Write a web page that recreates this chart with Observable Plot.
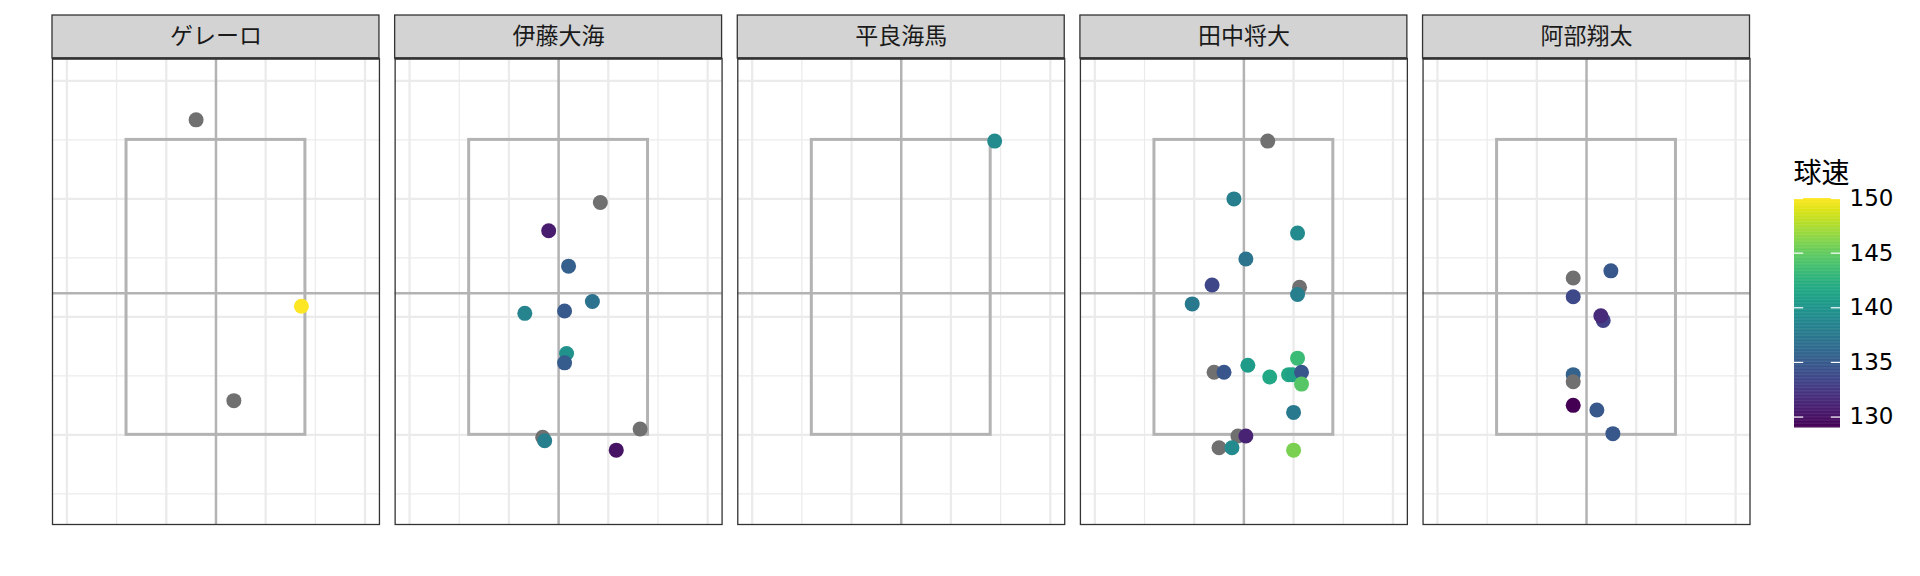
<!DOCTYPE html>
<html><head><meta charset="utf-8">
<script src="https://cdn.jsdelivr.net/npm/d3@7"></script>
<script src="https://cdn.jsdelivr.net/npm/@observablehq/plot@0.6"></script>
<style>
html,body{margin:0;padding:0;background:#fff;}
#wrap{position:relative;width:1920px;height:576px;overflow:hidden;background:#fff;}
#wrap > svg{position:absolute;top:0;}
</style></head><body><div id="wrap"></div>
<script>
// ---- data ----
const pitchers = ["ゲレーロ", "伊藤大海", "平良海馬", "田中将大", "阿部翔太"];
// index into pitchers for each pitch (draw order kept as in the chart)
const pitchPitcher = [
  0,0,0,
  1,1,1,1,1,1,1,1,1,1,1,1,
  2,
  3,3,3,3,3,3,3,3,3,3,3,3,3,3,3,3,3,3,3,3,3,3,3,
  4,4,4,4,4,4,4,4,4,4
];
const plateX = [
  -0.20, 0.86, 0.18,
  0.42, -0.10, 0.10, 0.34, -0.34, 0.06, 0.08, 0.06, -0.16, -0.14, 0.82, 0.58,
  0.94,
  0.24, -0.10, 0.54, 0.02, -0.32, 0.56, 0.54, -0.52, 0.54, 0.04, -0.30, -0.20, 0.26, 0.45, 0.49, 0.58, 0.58, 0.50, -0.06, 0.02, -0.25, -0.12, 0.50,
  0.245, -0.134, -0.134, 0.168, 0.144, -0.134, -0.134, -0.134, 0.104, 0.265
];
const plateZ = [
  4.17, 2.59, 1.79,
  3.47, 3.23, 2.93, 2.63, 2.53, 2.55, 2.19, 2.11, 1.48, 1.45, 1.55, 1.37,
  3.99,
  3.99, 3.50, 3.21, 2.99, 2.77, 2.75, 2.69, 2.61, 2.15, 2.09, 2.03, 2.03, 1.99, 2.01, 2.01, 2.03, 1.93, 1.69, 1.49, 1.49, 1.39, 1.39, 1.37,
  2.89, 2.83, 2.67, 2.47, 2.51, 2.01, 1.95, 1.75, 1.71, 1.51
];
// 球速 (km/h); null = not recorded
const speedKmh = [
  null, 150, null,
  null, 130.7, 135.3, 136.8, 138.5, 134.9, 139.5, 135, null, 138, null, 130,
  139,
  null, 138, 139, 137, 133.5, null, 138, 137.5, 143.3, 140.5, null, 134.6, 141.6, 141.5, 141, 134.6, 144.5, 137.5, null, 131, null, 139, 145.8,
  134.7, null, 133.6, 133, 131.5, 135.5, null, 129, 134.7, 134.7
];
const speedTicks = [130, 135, 140, 145, 150];
const speedDomain = [129, 150];

// reference geometry
const xMajor = [-1.5, -0.5, 0.5, 1.5];
const xMinor = [-1, 0, 1];
const yMajor = [1.5, 2.5, 3.5, 4.5];
const yMinor = [1, 2, 3, 4];
const zone = [{x1: -0.9, x2: 0.9, y1: 1.5, y2: 4.0}];
const centerX = [0];
const centerY = [2.7];

// ---- styling ----
const xDom = [-1.645, 1.645];
const yDom = [0.74, 4.69];
const stripTop = yDom[1] + 43 / 118;
const gridCol = "#EBEBEB", refCol = "#B3B3B3", naColor = "#707070";
const cjk = "'Noto Sans CJK JP', 'Noto Sans', sans-serif";

const pitches = pitchPitcher.map((p, i) => ({
  pitcher: pitchers[p], x: plateX[i], y: plateZ[i],
  speed: speedKmh[i] == null ? NaN : speedKmh[i]
}));

const colorOpts = {type: "linear", scheme: "viridis", domain: speedDomain, unknown: naColor};

const main = Plot.plot({
  width: 1920, height: 576,
  marginLeft: 52, marginRight: 170.5, marginTop: 58, marginBottom: 52,
  style: {fontFamily: cjk, background: "transparent", overflow: "visible"},
  fx: {domain: pitchers, paddingInner: 0.0458, paddingOuter: 0, round: false, axis: null, label: null},
  x: {domain: xDom, axis: null},
  y: {domain: yDom, axis: null},
  color: colorOpts,
  marks: [
    Plot.ruleX(xMinor, {y1: yDom[0], y2: yDom[1], stroke: gridCol, strokeWidth: 1.2}),
    Plot.ruleY(yMinor, {x1: xDom[0], x2: xDom[1], stroke: gridCol, strokeWidth: 1.2}),
    Plot.ruleX(xMajor, {y1: yDom[0], y2: yDom[1], stroke: gridCol, strokeWidth: 2.3}),
    Plot.ruleY(yMajor, {x1: xDom[0], x2: xDom[1], stroke: gridCol, strokeWidth: 2.3}),
    Plot.rect(zone, {x1: "x1", x2: "x2", y1: "y1", y2: "y2", fill: "none", stroke: refCol, strokeWidth: 3}),
    Plot.ruleX(centerX, {y1: yDom[0], y2: yDom[1], stroke: refCol, strokeWidth: 2.5}),
    Plot.ruleY(centerY, {x1: xDom[0], x2: xDom[1], stroke: refCol, strokeWidth: 2.4}),
    Plot.dot(pitches, {fx: "pitcher", x: "x", y: "y", fill: "speed", r: 7.5}),
    Plot.frame({stroke: "#333333", strokeWidth: 1.3}),
    Plot.rect([0], {x1: xDom[0], x2: xDom[1], y1: yDom[1], y2: stripTop, fill: "#D3D3D3", stroke: "#333333", strokeWidth: 1.3}),
    Plot.ruleY([yDom[1]], {x1: xDom[0], x2: xDom[1], stroke: "#333333", strokeWidth: 2.6}),
    Plot.text(pitchers, {fx: d => d, x: 0, y: (yDom[1] + stripTop) / 2, text: d => d, fontSize: 23, fill: "#1A1A1A", fontFamily: cjk})
  ]
});
main.style.left = "0px";

const binStep = 0.07;
const bins = d3.range(speedDomain[0], speedDomain[1], binStep);
const legend = Plot.plot({
  width: 160, height: 576,
  marginLeft: 34, marginRight: 80, marginTop: 198, marginBottom: 148.5,
  style: {fontFamily: cjk, background: "transparent", overflow: "visible", color: "#000"},
  x: {domain: [0, 1], axis: null},
  y: {domain: speedDomain, axis: null},
  color: colorOpts,
  marks: [
    Plot.rect(bins, {x1: 0, x2: 1, y1: d => d, y2: d => Math.min(d + binStep * 1.6, speedDomain[1]), fill: d => d}),
    Plot.ruleY(speedTicks, {x1: 0, x2: 0.2, stroke: "white", strokeWidth: 1.2}),
    Plot.ruleY(speedTicks, {x1: 0.8, x2: 1, stroke: "white", strokeWidth: 1.2}),
    Plot.axisY(speedTicks, {anchor: "right", tickSize: 0, tickPadding: 9, fontSize: 23, fontFamily: "'DejaVu Sans', sans-serif", fill: "#000"}),
    Plot.text(["球速"], {frameAnchor: "top-left", dy: -35, dx: -1, text: d => d, fontSize: 28, textAnchor: "start", fill: "#000", fontFamily: cjk})
  ]
});
legend.style.left = "1760px";

const wrap = document.getElementById("wrap");
wrap.appendChild(main);
wrap.appendChild(legend);
</script>
</body></html>
